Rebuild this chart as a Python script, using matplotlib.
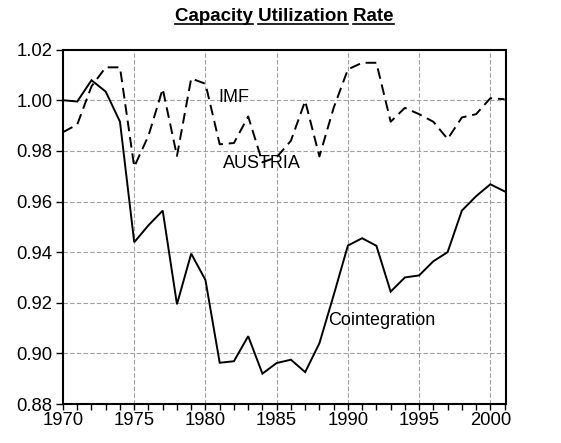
import matplotlib
matplotlib.use("Agg")
import matplotlib.pyplot as plt
from matplotlib.lines import Line2D
from matplotlib.ticker import MultipleLocator

years = list(range(1970, 2002))
cointegration = [1.000, 0.9995, 1.0079, 1.0034, 0.9915, 0.9439, 0.9506, 0.9564,
                 0.9194, 0.9394, 0.9290, 0.8963, 0.8969, 0.9068, 0.8920, 0.8962,
                 0.8975, 0.8926, 0.9040, 0.9230, 0.9426, 0.9455, 0.9425, 0.9244,
                 0.9300, 0.9308, 0.9364, 0.9400, 0.9564, 0.9621, 0.9668, 0.9640]
imf_austria = [0.9874, 0.9904, 1.0055, 1.0130, 1.0130, 0.9737, 0.9860, 1.0045,
               0.9780, 1.0086, 1.0065, 0.9826, 0.9831, 0.9936, 0.9755, 0.9775,
               0.9840, 0.9997, 0.9778, 0.9970, 1.0122, 1.0148, 1.0148, 0.9915,
               0.9970, 0.9945, 0.9915, 0.9847, 0.9932, 0.9945, 1.0008, 1.0004]
x_ticks = [1970, 1975, 1980, 1985, 1990, 1995, 2000]
y_ticks = [0.88, 0.90, 0.92, 0.94, 0.96, 0.98, 1.00, 1.02]
title = "Capacity Utilization Rate"

plt.rcParams['font.family'] = ['Liberation Sans', 'DejaVu Sans']

fig = plt.figure(figsize=(5.61, 4.43), dpi=100)
ax = fig.add_axes([0.1123, 0.088, 0.902 - 0.1123, 0.888 - 0.088])

ax.plot(years, cointegration, color='black', lw=1.4, solid_joinstyle='miter')
ax.plot(years, imf_austria, color='black', lw=1.4, linestyle=(0, (5.5, 3)))

ax.set_xlim(1970, 2001.1)
ax.set_ylim(0.88, 1.02)
ax.set_xticks(x_ticks)
ax.set_xticklabels([str(v) for v in x_ticks])
ax.xaxis.set_minor_locator(MultipleLocator(1))
ax.set_yticks(y_ticks)
ax.set_yticklabels([f"{v:.2f}" for v in y_ticks])

ax.tick_params(axis='both', labelsize=13.3, direction='out', width=1.0, color='black')
ax.tick_params(axis='y', length=5, pad=2.5, left=True, right=False)
ax.tick_params(axis='x', which='major', length=4, pad=1.5, top=False)
ax.tick_params(axis='x', which='minor', length=4, width=1.0, top=False)

for s in ax.spines.values():
    s.set_linewidth(1.5)
    s.set_color('black')

# grid lines (interior only)
for xv in x_ticks[1:]:
    ax.axvline(xv, color='#a0a0a0', lw=0.8, linestyle=(0, (4, 2)), zorder=0)
for yv in y_ticks[1:-1]:
    ax.axhline(yv, color='#a0a0a0', lw=0.8, linestyle=(0, (4, 2)), zorder=0)

ax.text(1980.9, 1.001, "IMF", fontsize=13, va='center', ha='left')
ax.text(1981.2, 0.9752, "AUSTRIA", fontsize=13, va='center', ha='left')
ax.text(1988.6, 0.913, "Cointegration", fontsize=13, va='center', ha='left')

xc = (0.1123 + 0.902) / 2
t = fig.text(xc, 1 - 20.7 / 443, title, fontsize=13.5, fontweight='bold',
             ha='center', va='baseline')

fig.canvas.draw()
r = fig.canvas.get_renderer()
bb = t.get_window_extent(r)
prop = t.get_fontproperties()

def width(s):
    return r.get_text_width_height_descent(s, prop, ismath=False)[0]

full_w, full_h, full_d = r.get_text_width_height_descent(title, prop, ismath=False)
baseline = bb.y0 + full_d
y_ul = baseline - 3.0
words = title.split(' ')
W, H = fig.bbox.width, fig.bbox.height
for i, wd in enumerate(words):
    prefix = ' '.join(words[:i]) + ' ' if i else ''
    start = bb.x0 + (width(prefix) if prefix else 0)
    end = start + width(wd)
    fig.add_artist(Line2D([start / W, end / W], [y_ul / H, y_ul / H],
                          transform=fig.transFigure, color='black', lw=1.2))

fig.savefig("out.png", dpi=100)
